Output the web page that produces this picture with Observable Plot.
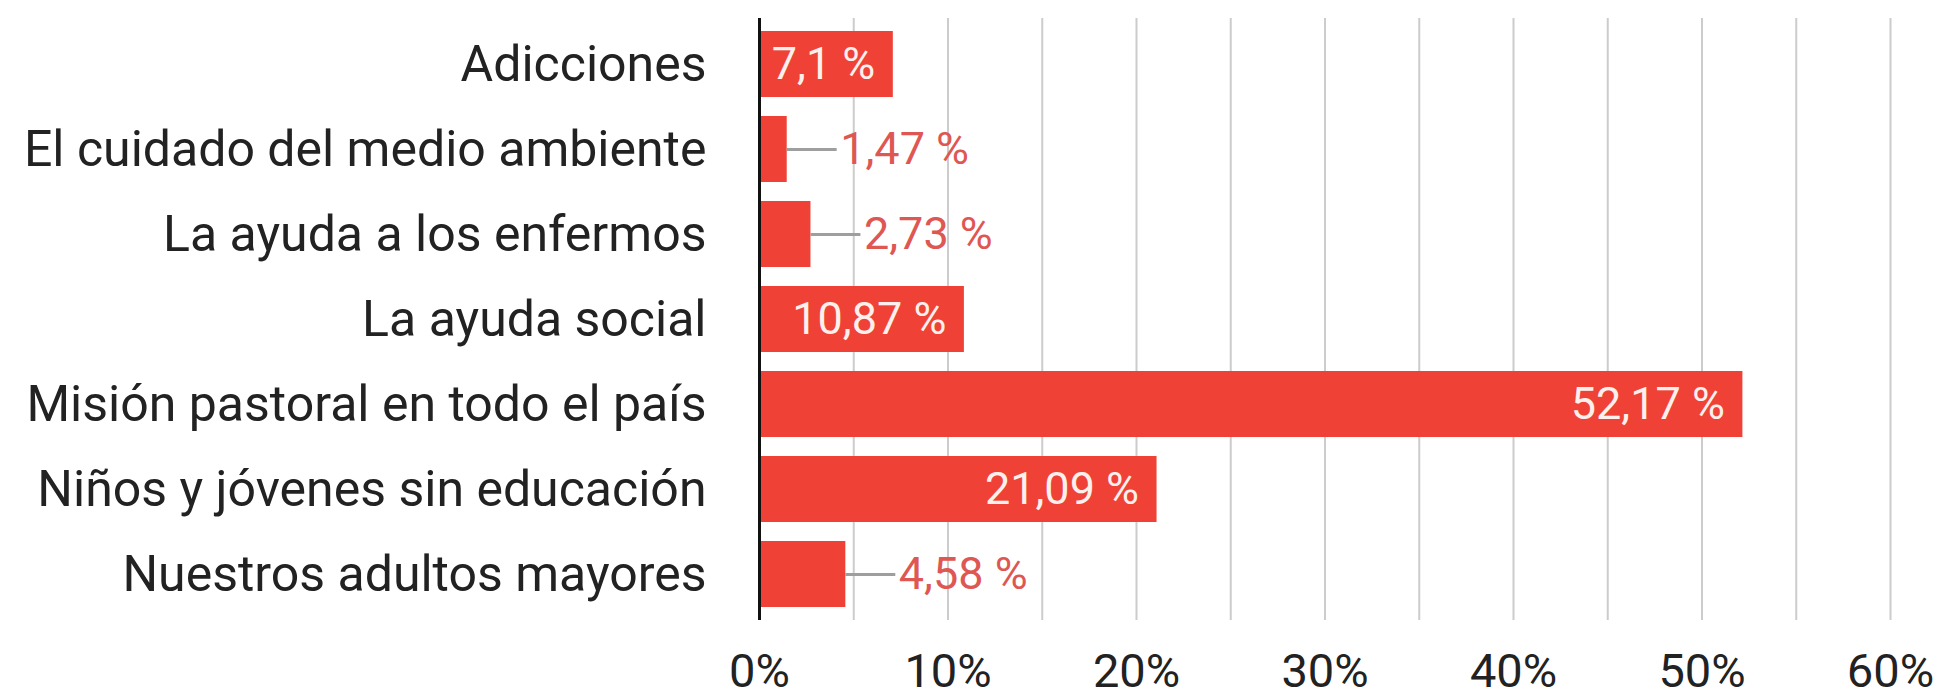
<!DOCTYPE html>
<html>
<head>
<meta charset="utf-8">
<script src="https://cdn.jsdelivr.net/npm/d3@7"></script>
<script src="https://cdn.jsdelivr.net/npm/@observablehq/plot@0.6"></script>
<style>
  html, body { margin: 0; padding: 0; background: #fff; }
  #chart svg { display: block; }
</style>
</head>
<body>
<div id="chart"></div>
<script>
const categories = [
  "Adicciones",
  "El cuidado del medio ambiente",
  "La ayuda a los enfermos",
  "La ayuda social",
  "Misión pastoral en todo el país",
  "Niños y jóvenes sin educación",
  "Nuestros adultos mayores"
];
const values = [7.1, 1.47, 2.73, 10.87, 52.17, 21.09, 4.58];
const valueLabels = ["7,1 %", "1,47 %", "2,73 %", "10,87 %", "52,17 %", "21,09 %", "4,58 %"];
const xTicks = [0, 10, 20, 30, 40, 50, 60];
const gridValues = [5, 10, 15, 20, 25, 30, 35, 40, 45, 50, 55, 60];

const data = categories.map((c, i) => ({cat: c, v: values[i], label: valueLabels[i]}));
const inside = data.filter(d => d.v >= 7);
const outside = data.filter(d => d.v < 7);
const leader = 2.65; // leader line length in % units

const chart = Plot.plot({
  width: 1948,
  height: 698,
  marginLeft: 759,
  marginRight: 58,
  marginTop: 18,
  marginBottom: 78,
  style: {fontFamily: "Roboto, 'Noto Sans', sans-serif", background: "#fff"},
  x: {domain: [0, 60]},
  y: {domain: categories, paddingInner: 0.224, paddingOuter: 0.15},
  marks: [
    Plot.ruleX(gridValues, {stroke: "#cccccc", strokeWidth: 2}),
    Plot.barX(data, {y: "cat", x: "v", fill: "#ef4136"}),
    Plot.ruleY(outside, {y: "cat", x1: "v", x2: d => d.v + leader, stroke: "#9e9e9e", strokeWidth: 3}),
    Plot.text(outside, {y: "cat", x: "v", text: "label", dx: 53, textAnchor: "start", fill: "#de5753", fontSize: 45}),
    Plot.text(inside, {y: "cat", x: "v", text: "label", dx: -18, textAnchor: "end", fill: "#fdf0ec", fontSize: 45}),
    Plot.ruleX([0], {stroke: "#111", strokeWidth: 3}),
    Plot.axisX({ticks: xTicks, tickFormat: d => d + "%", tickSize: 0, tickPadding: 33, fontSize: 47, fill: "#222", label: null}),
    Plot.axisY({tickSize: 0, tickPadding: 53, fontSize: 50, fill: "#222", label: null})
  ]
});
document.getElementById("chart").appendChild(chart);
</script>
</body>
</html>
